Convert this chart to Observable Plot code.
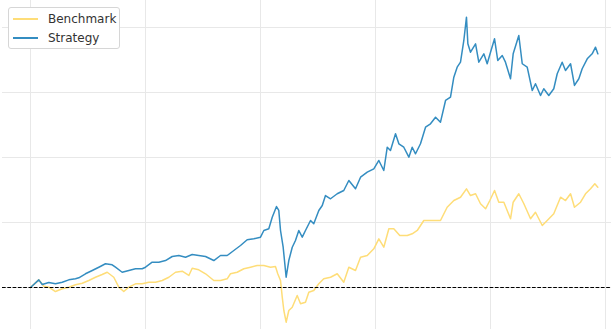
<!DOCTYPE html>
<html>
<head>
<meta charset="utf-8">
<script src="https://cdn.jsdelivr.net/npm/d3@7"></script>
<script src="https://cdn.jsdelivr.net/npm/@observablehq/plot@0.6"></script>
<style>
  html, body { margin: 0; padding: 0; background: #fff; }
  #wrap { position: relative; width: 611px; height: 329px; font-family: "DejaVu Sans", sans-serif; }
  #legend { position: absolute; left: 8px; top: 7px; width: 110px; height: 40px; background: #fff;
            border: 1px solid #d6d6d6; border-radius: 3px; font-size: 12px; color: #333; }
  .row { position: absolute; left: 4px; height: 16px; display: flex; align-items: center; }
  .sw { width: 25px; height: 0; border-top: 2px solid; margin-right: 10px; }
</style>
</head>
<body>
<div id="wrap"><div id="legend"></div></div>
<script>
// Years since start (grid lines at whole years) and cumulative return units
const strategyT = [0,0.072,0.102,0.159,0.217,0.276,0.333,0.391,0.42,0.478,0.537,0.594,0.652,0.71,0.739,0.797,0.855,0.913,0.971,1.0,1.058,1.116,1.174,1.232,1.29,1.348,1.406,1.463,1.522,1.594,1.652,1.71,1.768,1.826,1.884,1.942,2.0,2.029,2.072,2.102,2.139,2.159,2.174,2.197,2.223,2.246,2.276,2.304,2.333,2.363,2.391,2.435,2.463,2.507,2.537,2.565,2.609,2.667,2.724,2.768,2.826,2.87,2.928,2.985,3.029,3.072,3.102,3.13,3.174,3.203,3.246,3.29,3.319,3.348,3.391,3.435,3.478,3.522,3.565,3.609,3.652,3.681,3.71,3.739,3.768,3.791,3.803,3.826,3.87,3.898,3.942,3.971,4.0,4.035,4.063,4.102,4.13,4.174,4.197,4.246,4.276,4.319,4.363,4.391,4.435,4.463,4.507,4.55,4.58,4.623,4.652,4.696,4.73,4.768,4.797,4.841,4.884,4.913,4.933];
const strategyV = [0,0.118,0.046,0.077,0.057,0.082,0.118,0.134,0.149,0.211,0.262,0.312,0.365,0.349,0.312,0.235,0.262,0.288,0.288,0.312,0.389,0.389,0.415,0.477,0.492,0.466,0.508,0.492,0.477,0.415,0.492,0.492,0.569,0.646,0.734,0.749,0.774,0.877,0.903,1.082,1.246,1.185,0.877,0.62,0.158,0.415,0.62,0.723,0.877,0.774,0.877,1.031,0.98,1.185,1.262,1.415,1.365,1.442,1.492,1.646,1.518,1.697,1.774,1.826,1.954,1.8,2.158,2.108,2.365,2.211,2.158,2.005,2.158,2.057,2.211,2.466,2.518,2.62,2.543,2.877,2.928,3.235,3.389,3.466,3.8,4.158,3.749,3.62,3.749,3.466,3.595,3.442,3.62,3.826,3.492,3.569,3.466,3.211,3.595,3.877,3.442,3.389,3.031,3.134,2.954,3.057,2.954,3.057,3.288,3.466,3.338,3.442,3.108,3.211,3.365,3.518,3.595,3.697,3.595];
const benchmarkT = [0,0.072,0.116,0.159,0.217,0.276,0.333,0.391,0.45,0.507,0.565,0.623,0.667,0.724,0.768,0.811,0.855,0.913,0.971,1.029,1.087,1.145,1.203,1.261,1.319,1.377,1.406,1.463,1.522,1.594,1.652,1.71,1.739,1.797,1.855,1.913,1.971,2.029,2.087,2.13,2.15,2.174,2.189,2.203,2.223,2.246,2.276,2.319,2.348,2.391,2.42,2.463,2.507,2.55,2.609,2.667,2.724,2.768,2.826,2.87,2.928,2.985,3.029,3.072,3.116,3.159,3.211,3.276,3.319,3.363,3.42,3.478,3.565,3.623,3.681,3.739,3.791,3.826,3.87,3.913,3.957,3.994,4.035,4.072,4.116,4.174,4.197,4.246,4.29,4.348,4.391,4.45,4.493,4.55,4.609,4.652,4.696,4.73,4.783,4.826,4.87,4.907,4.933];
const benchmarkV = [0,0.118,0.02,0.005,-0.062,-0.02,0.005,0.042,0.066,0.108,0.158,0.2,0.235,0.158,0.005,-0.062,0.005,0.057,0.057,0.082,0.082,0.108,0.158,0.235,0.251,0.185,0.297,0.272,0.211,0.108,0.108,0.134,0.211,0.235,0.288,0.312,0.338,0.338,0.312,0.323,0.211,0.108,-0.149,-0.354,-0.534,-0.354,-0.303,-0.123,-0.251,-0.226,-0.072,-0.046,0.057,0.134,0.158,0.211,0.082,0.312,0.262,0.466,0.492,0.595,0.749,0.62,0.903,0.903,0.8,0.8,0.826,0.877,1.031,1.031,1.031,1.235,1.338,1.389,1.518,1.415,1.442,1.288,1.211,1.338,1.492,1.312,1.312,1.057,1.312,1.442,1.288,1.057,1.158,0.954,1.031,1.134,1.389,1.338,1.442,1.235,1.312,1.442,1.518,1.595,1.543];
const seriesNames = ["Benchmark", "Strategy"];
const seriesColors = ["#FEDD78", "#348DC1"];
const xGridTicks = [0, 1, 2, 3, 4, 5];
const yGridTicks = [0, 1, 2, 3, 4];

const bench = benchmarkT.map((t, i) => ({t, v: benchmarkV[i]}));
const strat = strategyT.map((t, i) => ({t, v: strategyV[i]}));

const chart = Plot.plot({
  width: 611,
  height: 329,
  marginLeft: 2, marginRight: 0, marginTop: 0, marginBottom: 0,
  x: {domain: [-0.2435, 5.052], axis: null},
  y: {domain: [-0.646, 4.415], axis: null},
  marks: [
    Plot.gridX(xGridTicks, {stroke: "#e8e8e8", strokeOpacity: 1, strokeWidth: 1}),
    Plot.gridY(yGridTicks, {stroke: "#e8e8e8", strokeOpacity: 1, strokeWidth: 1}),
    Plot.line(bench, {x: "t", y: "v", stroke: seriesColors[0], strokeWidth: 1.5}),
    Plot.line(strat, {x: "t", y: "v", stroke: seriesColors[1], strokeWidth: 1.5}),
    Plot.ruleY([0], {stroke: "#000", strokeWidth: 1, strokeDasharray: "3.7,1.6"})
  ]
});
document.getElementById("wrap").prepend(chart);

const legend = document.getElementById("legend");
seriesNames.forEach((name, i) => {
  const row = document.createElement("div");
  row.className = "row";
  row.style.top = (3 + i * 19) + "px";
  const sw = document.createElement("span");
  sw.className = "sw";
  sw.style.borderColor = seriesColors[i];
  const label = document.createElement("span");
  label.textContent = name;
  row.append(sw, label);
  legend.append(row);
});
</script>
</body>
</html>
